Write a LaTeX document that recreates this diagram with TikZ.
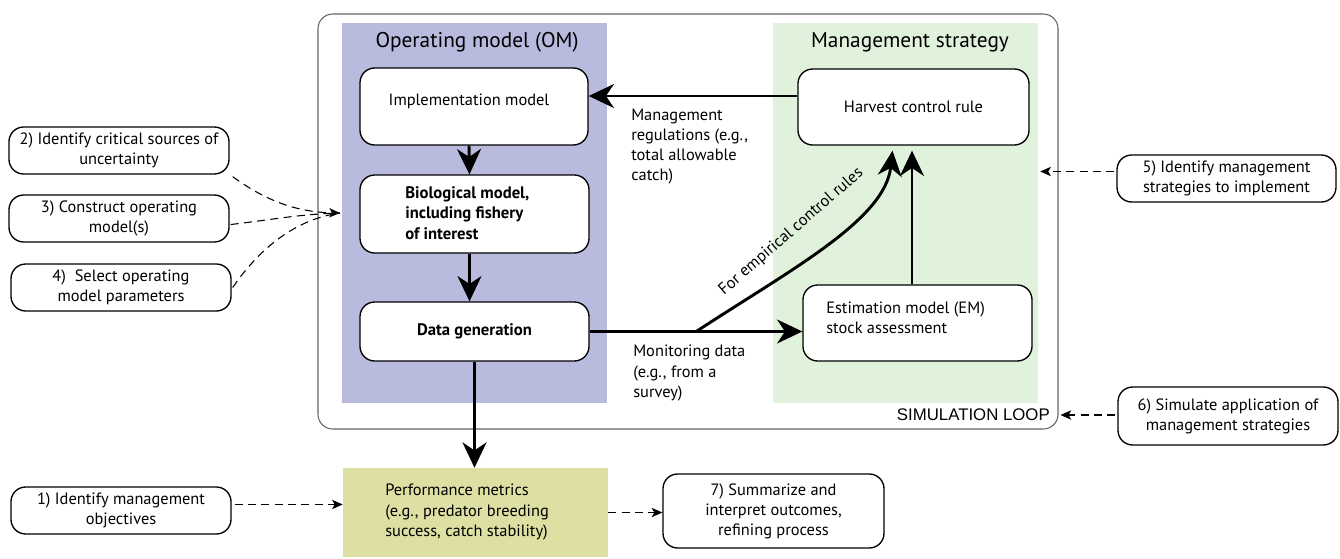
\documentclass[tikz,border=0pt]{standalone}
\usepackage{fontspec}
\setmainfont{PT Sans}
\newfontfamily\arialfont{Liberation Sans}
\usetikzlibrary{arrows.meta,calc}
\definecolor{omblue}{HTML}{B8BBDD}
\definecolor{msgreen}{HTML}{E1F2DC}
\definecolor{perfyellow}{HTML}{DEDFA3}
\definecolor{framegray}{HTML}{646464}
\begin{document}
\begin{tikzpicture}[x=0.75pt,y=-0.75pt,
  sz/.style 2 args={minimum width=#1*0.75pt, minimum height=#2*0.75pt},
  panel/.style={draw=none, inner sep=0},
  box/.style={draw, rounded corners=11pt, line width=1pt, fill=white, inner sep=0, align=center, font=\fontsize{12.3}{15}\selectfont},
  txt/.style={inner sep=0, align=left, font=\fontsize{12.3}{15.2}\selectfont},
  ttl/.style={inner sep=0, font=\fontsize{16}{19}\selectfont},
  flow/.style={line width=2.2pt, -{Stealth[length=19pt,width=18pt,inset=6pt]}},
  dsh/.style={line width=0.8pt, dash pattern=on 6pt off 4pt, -{Stealth[length=8pt,width=7pt,inset=2pt]}}
]
\useasboundingbox (0,0) rectangle (1340,558);
% simulation loop frame
\node[draw=framegray, rounded corners=11pt, line width=0.8pt, inner sep=0, sz={740}{415}] (loop) at (688,221.5) {};
\node[inner sep=0, anchor=east, font=\arialfont\fontsize{12.6}{14}\selectfont] (loopT) at (1050,415) {SIMULATION LOOP};
% panels
\node[panel, fill=omblue, sz={265}{380}] (om) at (474.5,213) {};
\node[ttl] (omT) at (477,42) {Operating model (OM)};
\node[panel, fill=msgreen, sz={265}{380}] (ms) at (905.5,213) {};
\node[ttl] (msT) at (910,42) {Management strategy};
% OM boxes
\node[box, sz={228}{77}] (impl) at (474,106.5) {};
\node[txt] (implT) at (469,101) {Implementation model};
\node[box, sz={229}{78}] (bio) at (474.5,214) {};
\node[txt, anchor=west, font=\bfseries\fontsize{12.5}{15.4}\selectfont] (bioT) at (405,213) {Biological model,\\including fishery\\of interest};
\node[box, sz={229}{59}, font=\bfseries\fontsize{12.5}{15}\selectfont] (data) at (474.5,331.5) {Data generation};
% MS boxes
\node[box, sz={231}{76}] (harv) at (913.5,107) {Harvest control rule};
\node[box, sz={229}{76}] (em) at (917.5,323) {};
\node[txt, anchor=west] (emT) at (826,318) {Estimation model (EM)\\stock assessment};
% performance
\node[panel, fill=perfyellow, sz={265}{89}] (perf) at (475.5,512.5) {};
\node[txt, anchor=west] (perfT) at (385,512) {Performance metrics\\(e.g., predator breeding\\success, catch stability)};
\node[box, sz={221}{74}] (b7) at (773.5,511) {7) Summarize and\\interpret outcomes,\\refining process};
% left steps
\node[box, sz={220}{47}] (b2) at (119,150.5) {2) Identify critical sources of\\uncertainty};
\node[box, sz={220}{47}] (b3) at (119,218.5) {3) Construct operating\\model(s)};
\node[box, sz={220}{47}] (b4) at (121,287.5) {4)~ Select operating\\model parameters};
\node[box, sz={220}{47}] (b1) at (121,510.5) {1) Identify management\\objectives};
% right steps
\node[box, sz={219}{47}] (b5) at (1226.5,178.5) {5) Identify management\\strategies to implement};
\node[box, sz={220}{58}] (b6) at (1228,416) {6) Simulate application of\\management strategies};
% labels
\node[txt, anchor=west] (regT) at (631,146.5) {Management\\regulations (e.g.,\\total allowable\\catch)};
\node[txt, anchor=west] (monT) at (633,373) {Monitoring data\\(e.g., from a\\survey)};
% flow arrows
\draw[flow] ($(impl.south)+(-5,0)$) -- ($(bio.north)+(-5,0)$);
\draw[flow] ($(bio.south)+(-5,0)$) -- ($(data.north)+(-5,0)$);
\draw[flow] (data.south) -- (data.south |- perf.north);
\draw[flow] ($(harv.west)+(0,-11)$) -- (impl.east |- {$(harv.west)+(0,-11)$});
\draw[flow] (data.east) -- (em.west |- data.east);
\draw[flow] ($(em.north)+(-5.5,0)$) -- ($(harv.south)+(-1.5,5)$);
\coordinate (split) at (697,331);
\draw[flow] (split) .. controls (790,270) and (885,220) .. ($(harv.south)+(-21,5)$);
\node[txt, rotate=41, anchor=base] (empT) at (794,235) {For empirical control rules};
% dashed
\coordinate (omIn) at (340,213);
\draw[dsh] ($(b2.south east)+(3,2)$) .. controls (265,200) and (295,212) .. (omIn);
\draw[dsh, -] ($(b3.east)+(1,6)$) .. controls (270,220) and (300,214) .. (omIn);
\draw[dsh, -] ($(b4.east)+(1,0)$) .. controls (255,255) and (290,220) .. (omIn);
\draw[dsh] ($(b1.east)+(3,-6)$) -- (perf.west |- {$(b1.east)+(3,-6)$});
\draw[dsh] (perf.east) -- (b7.west |- perf.east);
\draw[dsh] ($(b5.west)+(-2,-7)$) -- ($(ms.east |- b5.west)+(2,-7)$);
\draw[dsh] ($(b6.west)+(-2,-1)$) -- ($(loop.east |- b6.west)+(2,-1)$);
\end{tikzpicture}
\end{document}
